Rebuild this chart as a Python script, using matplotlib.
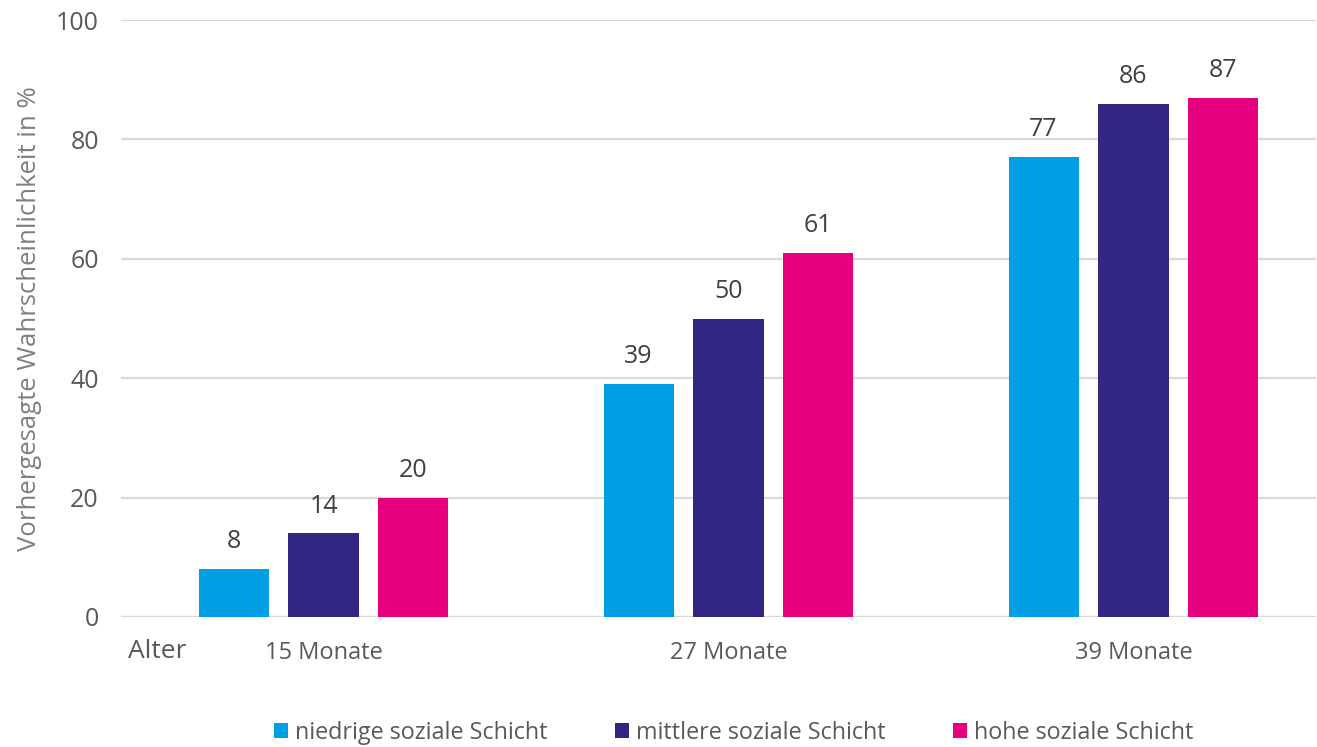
import numpy as np
import matplotlib.pyplot as plt
from matplotlib.patches import Patch

# data
categories = ["15 Monate", "27 Monate", "39 Monate"]
series_names = ["niedrige soziale Schicht", "mittlere soziale Schicht", "hohe soziale Schicht"]
niedrig = [8, 39, 77]
mittel = [14, 50, 86]
hoch = [20, 61, 87]
y_ticks = [0, 20, 40, 60, 80, 100]

colors = ["#009FE3", "#312783", "#E6007E"]

plt.rcParams["font.family"] = ["Open Sans", "DejaVu Sans"]

W, H = 1317, 747
fig = plt.figure(figsize=(W / 100, H / 100), dpi=100)
ax = fig.add_axes([121 / W, 1 - 617 / H, (1316 - 121) / W, (617 - 20) / H])

x = np.arange(len(categories))
width = 0.173
offset = 0.222

for i, (vals, name) in enumerate(zip([niedrig, mittel, hoch], series_names)):
    bars = ax.bar(x + (i - 1) * offset, vals, width, color=colors[i], label=name, zorder=3)
    for b, v in zip(bars, vals):
        ax.text(b.get_x() + b.get_width() / 2, v + 3.5, str(v),
                ha="center", va="baseline", fontsize=18, color="#404040")

ax.set_xlim(-0.5, (1316 - 121) / 405 - 0.5)
ax.set_ylim(0, 100)
ax.set_yticks(y_ticks)
ax.grid(axis="y", color="#d9d9d9", linewidth=1.6, zorder=0)
for s in ["top", "right", "left", "bottom"]:
    ax.spines[s].set_visible(False)
ax.axhline(0, color="#d9d9d9", linewidth=1.6, zorder=2)

ax.tick_params(axis="y", length=0, pad=16, labelsize=18, labelcolor="#595959")
ax.tick_params(axis="x", length=0, pad=17, labelsize=17, labelcolor="#595959")
ax.set_xticks(x)
ax.set_xticklabels(categories)

ax.set_ylabel("Vorhergesagte Wahrscheinlichkeit in %", fontsize=18.5, color="#7f7f7f")
ax.yaxis.set_label_coords(-(121 - 30) / (1316 - 121), 0.5)
ax.yaxis.label.set_va("center")

fig.text(128 / W, 1 - 652 / H, "Alter", fontsize=19, color="#595959", ha="left", va="center")

handles = [Patch(facecolor=c) for c in colors]
fig.legend(handles, series_names, loc="center", bbox_to_anchor=(0.557, 1 - 733 / H),
           ncol=3, frameon=False, fontsize=16.8, labelcolor="#595959",
           handlelength=0.6, handleheight=0.6, handletextpad=0.3, columnspacing=2.9)

fig.savefig("out.png", dpi=100)
